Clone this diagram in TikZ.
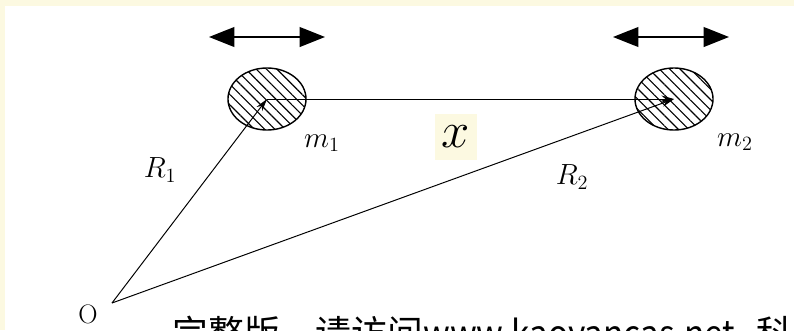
\documentclass[tikz,border=0pt]{standalone}
\usepackage{fontspec}
\newfontfamily\cjkfont{Noto Sans CJK SC}
\usetikzlibrary{arrows.meta,shapes.geometric,patterns.meta}
\definecolor{cream}{HTML}{FCF9E1}

\begin{document}
\begin{tikzpicture}[
  x=0.025cm, y=-0.025cm,
  mass/.style={draw, ellipse, line width=1pt, minimum width=1.95cm, minimum height=1.55cm, inner sep=0pt,
    pattern={Lines[angle=-45,distance=5.2pt,line width=0.8pt]}},
  vec/.style={-{Stealth[length=9pt,width=5pt]}, line width=0.7pt},
  shake/.style={{Triangle[length=18pt,width=14pt]}-{Triangle[length=18pt,width=14pt]}, line width=1.2pt},
  lab/.style={font=\fontsize{20.74}{24}\selectfont, inner sep=0pt},
]
  \useasboundingbox (0,0) rectangle (794,330);
  \fill[cream] (0,0) rectangle (794,330);
  \fill[white] (5,6) rectangle (794,330);

  % the two masses
  \node[mass] (m1) at (267,99) {};
  \node[mass] (m2) at (674,99) {};
  \coordinate (o) at (112,303);

  % position vectors
  \draw[vec] (o) -- (m1.center);
  \draw[vec] (o) -- (m2.center);
  \draw[vec] (m1.center) -- (m2.center);

  % oscillation arrows
  \coordinate (s1a) at (209,37);
  \coordinate (s1b) at (325,37);
  \coordinate (s2a) at (613,37);
  \coordinate (s2b) at (729,37);
  \draw[shake] (s1a) -- (s1b);
  \draw[shake] (s2a) -- (s2b);

  % labels
  \node[lab] (olab) at (88,314) {\fontsize{19}{22}\selectfont O};
  \node[lab] (r1) at (160,170) {$R_1$};
  \node[lab] (r2) at (572,177) {$R_2$};
  \node[lab] (m1lab) at (322,143) {$m_1$};
  \node[lab] (m2lab) at (735,142) {$m_2$};
  \node[fill=cream, minimum width=1.05cm, minimum height=1.15cm, inner sep=0pt,
    font=\fontsize{24.88}{28}\selectfont] (xlab) at (456,137) {\scalebox{1.45}{$x$}};

  \begin{scope}
    \clip (0,0) rectangle (794,330);
    \node[anchor=base west, inner sep=0pt, font=\cjkfont\fontsize{25.5}{30}\selectfont] (note) at (172,346)
      {完整版，请访问\scalebox{0.93}[1]{www.kaoyancas.net}\hspace{0.6em}科};
  \end{scope}
\end{tikzpicture}
\end{document}
